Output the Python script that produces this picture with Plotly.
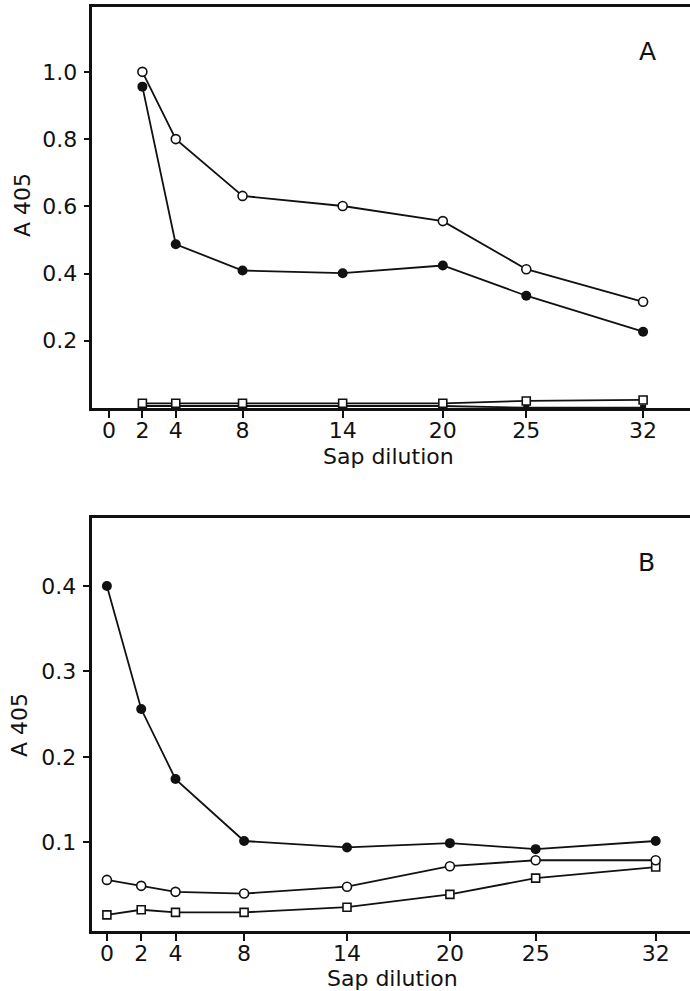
import plotly.graph_objects as go

W, H = 690, 991

# Sap dilution steps
dil_a = [2, 4, 8, 14, 20, 25, 32]
dil_b = [0, 2, 4, 8, 14, 20, 25, 32]
x_ticks = [0, 2, 4, 8, 14, 20, 25, 32]

# Panel A absorbance readings
a_open = [1.0, 0.80, 0.631, 0.601, 0.556, 0.413, 0.316]
a_filled = [0.956, 0.487, 0.409, 0.401, 0.424, 0.334, 0.227]
a_square = [0.014, 0.014, 0.014, 0.014, 0.014, 0.021, 0.024]
a_base = [0.006, 0.006, 0.006, 0.006, 0.006, 0.001, 0.001]

# Panel B absorbance readings
b_filled = [0.400, 0.256, 0.174, 0.1015, 0.094, 0.099, 0.092, 0.1015]
b_open = [0.056, 0.049, 0.042, 0.040, 0.048, 0.072, 0.079, 0.079]
b_square = [0.015, 0.021, 0.018, 0.018, 0.024, 0.039, 0.058, 0.071]

ya_ticks = [0.2, 0.4, 0.6, 0.8, 1.0]
yb_ticks = [0.1, 0.2, 0.3, 0.4]

FONT = "DejaVu Sans"
BLACK = "#111111"


def px(v, size):
    return v / size


def open_marker(sym, size):
    return dict(symbol=sym, size=size, color="white", line=dict(color=BLACK, width=1.6))


def filled_marker(size):
    return dict(symbol="circle", size=size, color=BLACK, line=dict(color=BLACK, width=0))


fig = go.Figure()

line = dict(color=BLACK, width=1.8)

# Panel A traces
fig.add_trace(go.Scatter(x=dil_a, y=a_base, mode="lines+markers", line=line,
                         marker=dict(symbol="square", size=6, color=BLACK), xaxis="x", yaxis="y", cliponaxis=False))
fig.add_trace(go.Scatter(x=dil_a, y=a_square, mode="lines+markers", line=line,
                         marker=open_marker("square", 8), xaxis="x", yaxis="y", cliponaxis=False))
fig.add_trace(go.Scatter(x=dil_a, y=a_filled, mode="lines+markers", line=line,
                         marker=filled_marker(10), xaxis="x", yaxis="y"))
fig.add_trace(go.Scatter(x=dil_a, y=a_open, mode="lines+markers", line=line,
                         marker=open_marker("circle", 9), xaxis="x", yaxis="y"))

# Panel B traces
fig.add_trace(go.Scatter(x=dil_b, y=b_square, mode="lines+markers", line=line,
                         marker=open_marker("square", 8), xaxis="x2", yaxis="y2"))
fig.add_trace(go.Scatter(x=dil_b, y=b_open, mode="lines+markers", line=line,
                         marker=open_marker("circle", 9), xaxis="x2", yaxis="y2"))
fig.add_trace(go.Scatter(x=dil_b, y=b_filled, mode="lines+markers", line=line,
                         marker=filled_marker(10), xaxis="x2", yaxis="y2"))

tickfont = dict(family=FONT, size=22, color=BLACK)

xcommon = dict(tickmode="array", tickvals=x_ticks, ticktext=[str(v) for v in x_ticks],
               ticks="outside", ticklen=7, tickwidth=2, tickcolor=BLACK,
               showline=True, linewidth=2.6, linecolor=BLACK, mirror=True,
               showgrid=False, zeroline=False, tickfont=tickfont, ticklabelstandoff=-6)
ycommon = dict(ticks="outside", ticklen=6, tickwidth=2, tickcolor=BLACK,
               showline=True, linewidth=2.6, linecolor=BLACK,
               showgrid=False, zeroline=False, tickfont=tickfont, ticklabelstandoff=2)

fig.update_layout(
    width=W, height=H,
    margin=dict(l=0, r=0, t=0, b=0),
    paper_bgcolor="white", plot_bgcolor="white",
    showlegend=False,
    xaxis=dict(domain=[px(92.4, W), 1], range=[-0.995, 34.81], anchor="y", **xcommon),
    yaxis=dict(domain=[1 - px(408, H), 1 - px(7, H)], range=[0, 1.193], anchor="x",
               tickmode="array", tickvals=ya_ticks, ticktext=[f"{v:.1f}" for v in ya_ticks], **ycommon),
    xaxis2=dict(domain=[px(91.5, W), 1], range=[-0.898, 34.0], anchor="y2", **xcommon),
    yaxis2=dict(domain=[1 - px(930.7, H), 1 - px(517.7, H)], range=[-0.0035, 0.48], anchor="x2",
                tickmode="array", tickvals=yb_ticks, ticktext=[f"{v:.1f}" for v in yb_ticks], **ycommon),
)

labfont = dict(family=FONT, size=22, color=BLACK)
annotations = [
    dict(text="A 405", x=px(22, W), y=1 - px(205, H), textangle=-90),
    dict(text="A 405", x=px(19, W), y=1 - px(725, H), textangle=-90),
    dict(text="Sap dilution", x=px(388, W), y=1 - px(456, H)),
    dict(text="Sap dilution", x=px(392, W), y=1 - px(978, H)),
]
for a in annotations:
    fig.add_annotation(xref="paper", yref="paper", showarrow=False,
                       xanchor="center", yanchor="middle", font=labfont, **a)

panel_font = dict(family=FONT, size=25, color=BLACK)
fig.add_annotation(text="A", xref="paper", yref="paper", x=px(647, W), y=1 - px(52, H),
                   showarrow=False, xanchor="center", yanchor="middle", font=panel_font)
fig.add_annotation(text="B", xref="paper", yref="paper", x=px(646, W), y=1 - px(562, H),
                   showarrow=False, xanchor="center", yanchor="middle", font=panel_font)

fig.write_html("out.html")
